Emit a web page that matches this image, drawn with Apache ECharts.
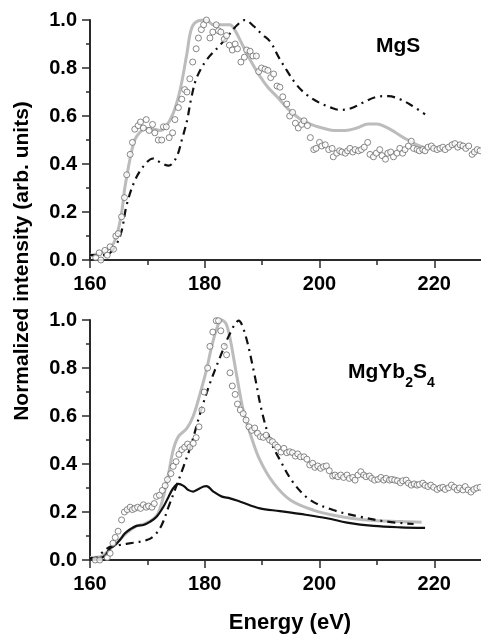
<!DOCTYPE html>
<html>
<head>
<meta charset="utf-8">
<title>Mg L2,3 edge spectra</title>
<script src="https://cdn.jsdelivr.net/npm/echarts@6/dist/echarts.min.js"></script>
<style>
  html, body { margin: 0; padding: 0; background: #fff; }
  #chart { width: 481px; height: 634px; }
</style>
</head>
<body>
<div id="chart"></div>
<script>
// Axis ticks
const xTicks = [160, 180, 200, 220];
const yTicks = [0.0, 0.2, 0.4, 0.6, 0.8, 1.0];

// ---------- MgS panel ----------
// measured spectrum (open circles)
const mgsMeasured = [
  [161.0,0.01],[161.6,0.03],[161.9,0.0],[162.6,0.04],[163.0,0.02],[163.5,0.055],[164.1,0.045],
  [164.5,0.1],[164.9,0.11],[165.5,0.18],[166.0,0.26],[166.4,0.355],[167.0,0.44],[167.4,0.49],
  [167.8,0.545],[168.4,0.56],[168.8,0.575],[169.3,0.55],[169.8,0.585],[170.3,0.54],[170.9,0.565],
  [171.3,0.53],[171.9,0.5],[172.5,0.5],[172.8,0.555],[173.3,0.555],[173.8,0.51],[174.4,0.53],
  [174.8,0.585],[175.4,0.635],[176.0,0.67],[176.5,0.71],[176.9,0.70],[177.4,0.755],[177.9,0.825],
  [178.5,0.88],[178.9,0.925],[179.4,0.96],[179.8,0.98],[180.3,1.0],[180.9,0.925],[181.4,0.95],
  [182.0,0.98],[182.4,0.955],[182.8,0.95],[183.4,0.92],[183.8,0.935],[184.3,0.895],[184.8,0.875],
  [185.3,0.9],[185.7,0.88],[186.3,0.825],[186.9,0.845],[187.3,0.875],[187.9,0.87],[188.4,0.85],
  [189.0,0.85],[189.4,0.785],[189.9,0.8],[190.5,0.795],[191.0,0.79],[191.5,0.76],[192.0,0.775],
  [192.6,0.725],[193.1,0.72],[193.6,0.68],[194.3,0.65],[194.8,0.6],[195.3,0.615],[195.8,0.57],
  [196.3,0.55],[196.9,0.565],[197.3,0.58],[197.9,0.56],[198.4,0.51],[199.0,0.46],[199.4,0.465],
  [200.0,0.49],[200.4,0.475],[201.0,0.48],[201.6,0.46],[202.2,0.465],[202.4,0.43],[203.0,0.445],
  [203.5,0.455],[203.9,0.45],[204.5,0.445],[204.9,0.455],[205.3,0.465],[205.8,0.45],[206.2,0.46],
  [206.8,0.455],[207.3,0.46],[207.8,0.47],[208.4,0.49],[208.8,0.44],[209.4,0.43],[209.9,0.445],
  [210.5,0.46],[210.9,0.435],[211.5,0.42],[211.9,0.445],[212.4,0.45],[212.9,0.43],[213.5,0.445],
  [214.0,0.465],[214.5,0.445],[214.9,0.46],[215.5,0.475],[216.0,0.495],[216.4,0.465],[217.0,0.46],
  [217.4,0.455],[218.0,0.46],[218.4,0.455],[218.9,0.47],[219.5,0.475],[219.9,0.465],[220.5,0.46],
  [221.0,0.465],[221.5,0.47],[221.9,0.46],[222.5,0.47],[223.1,0.48],[223.6,0.485],[224.1,0.47],
  [224.5,0.48],[225.0,0.475],[225.5,0.465],[226.0,0.475],[226.6,0.44],[227.0,0.45],[227.5,0.46],
  [228.0,0.455]
];
// calculation (grey solid line)
const mgsCalcGrey = [
  [160,0.02],[162,0.03],[163.5,0.05],[164.5,0.09],[165.5,0.195],[166.1,0.305],[167.3,0.458],
  [168.1,0.514],[169.9,0.549],[171.2,0.545],[172.2,0.54],[173.2,0.555],[174.5,0.611],[175.7,0.708],
  [176.9,0.861],[177.7,0.965],[178.9,0.997],[180.3,1.0],[181.5,0.98],[183.0,0.98],[184.4,0.98],
  [185.2,0.96],[186.5,0.9],[188.0,0.83],[189.5,0.77],[191.0,0.72],[192.6,0.68],[194.5,0.63],
  [196.5,0.59],[198.5,0.565],[200.5,0.55],[202.5,0.54],[204.5,0.54],[206.5,0.55],[208.5,0.567],
  [210.0,0.567],[211.5,0.555],[213.0,0.535],[215.0,0.505],[217.0,0.48],[218.7,0.465]
];
// calculation (black dash-dot line)
const mgsCalcDashDot = [
  [160,0.02],[162,0.02],[163.5,0.03],[164.5,0.06],[165.5,0.12],[166.4,0.23],[167.8,0.33],
  [169.3,0.39],[171.0,0.423],[172.5,0.403],[173.7,0.393],[175.1,0.43],[176.0,0.5],[176.9,0.58],
  [177.7,0.68],[178.6,0.76],[180.3,0.833],[182.7,0.896],[184.4,0.944],[185.7,0.98],[187.0,1.0],
  [188.5,0.975],[190.0,0.94],[191.4,0.91],[193.0,0.84],[194.3,0.79],[196.0,0.73],[197.8,0.688],
  [200.0,0.655],[202.0,0.635],[203.6,0.625],[205.5,0.632],[207.5,0.655],[210.0,0.68],[212.0,0.683],
  [214.0,0.67],[216.0,0.645],[218.4,0.607]
];

// ---------- MgYb2S4 panel ----------
const mgybMeasured = [
  [160.9,0.0],[161.7,0.0],[163.0,0.01],[163.5,0.028],[164.0,0.07],[164.4,0.094],[164.9,0.12],
  [165.5,0.167],[166.0,0.2],[166.5,0.21],[167.0,0.22],[167.4,0.21],[167.8,0.215],[168.3,0.22],
  [168.8,0.215],[169.3,0.23],[169.8,0.22],[170.2,0.225],[170.8,0.22],[171.2,0.235],[171.6,0.265],
  [172.1,0.27],[172.6,0.29],[173.1,0.31],[173.5,0.335],[174.1,0.36],[174.5,0.39],[175.0,0.41],
  [175.5,0.44],[176.0,0.46],[176.5,0.47],[177.0,0.483],[177.4,0.47],[178.0,0.486],[178.5,0.51],
  [179.0,0.555],[179.5,0.625],[179.9,0.7],[180.5,0.8],[180.9,0.89],[181.4,0.95],[182.0,0.997],
  [182.4,0.997],[182.8,0.955],[183.4,0.89],[183.8,0.855],[184.4,0.78],[184.8,0.725],[185.3,0.69],
  [185.7,0.65],[186.2,0.625],[186.7,0.61],[187.2,0.583],[187.7,0.555],[188.2,0.54],[188.7,0.55],
  [189.2,0.528],[189.7,0.514],[190.2,0.511],[190.7,0.52],[191.3,0.5],[191.8,0.493],[192.3,0.48],
  [192.7,0.47],[193.3,0.45],[193.8,0.465],[194.3,0.447],[194.8,0.451],[195.3,0.447],[195.8,0.433],
  [196.2,0.442],[196.7,0.43],[197.3,0.43],[197.8,0.42],[198.3,0.396],[198.8,0.403],[199.2,0.386],
  [199.7,0.392],[200.2,0.382],[200.7,0.389],[201.2,0.392],[201.7,0.372],[202.3,0.35],[202.7,0.354],
  [203.2,0.347],[203.7,0.354],[204.2,0.344],[204.8,0.354],[205.2,0.34],[205.8,0.344],[206.2,0.333],
  [206.7,0.354],[207.2,0.368],[207.7,0.354],[208.1,0.347],[208.7,0.35],[209.1,0.34],[209.6,0.333],
  [210.2,0.336],[210.7,0.344],[211.2,0.333],[211.6,0.34],[212.2,0.333],[212.6,0.336],[213.1,0.333],
  [213.6,0.33],[214.1,0.322],[214.5,0.33],[215.1,0.333],[215.5,0.32],[216.0,0.312],[216.5,0.317],
  [217.0,0.312],[217.4,0.315],[218.0,0.32],[218.4,0.311],[218.9,0.306],[219.4,0.312],[219.9,0.303],
  [220.5,0.294],[221.0,0.3],[221.5,0.303],[221.9,0.294],[222.5,0.301],[223.0,0.312],[223.5,0.303],
  [224.0,0.292],[224.4,0.3],[225.0,0.292],[225.4,0.306],[225.9,0.292],[226.4,0.283],[226.9,0.294],
  [227.4,0.3],[228.0,0.303]
];
const mgybCalcGrey = [
  [160,0.01],[162,0.015],[163.5,0.045],[165,0.08],[166.5,0.115],[168,0.14],[169.5,0.15],[171,0.17],
  [171.9,0.195],[172.8,0.264],[173.7,0.36],[174.5,0.458],[175.4,0.514],[176.9,0.549],[178.0,0.6],
  [179.2,0.694],[180.3,0.792],[181.2,0.889],[182.1,0.965],[182.9,1.0],[183.7,0.985],[184.4,0.925],
  [185.6,0.764],[186.7,0.625],[187.9,0.528],[189.6,0.417],[192.0,0.32],[194.9,0.25],[198.9,0.208],
  [203.6,0.181],[208.2,0.167],[214.1,0.16],[217.8,0.157]
];
const mgybCalcBlack = [
  [160,0.007],[161.7,0.008],[162.6,0.017],[163.5,0.049],[164.4,0.0625],[165.2,0.083],[166.1,0.111],
  [167.0,0.128],[168.1,0.142],[169.3,0.146],[170.5,0.16],[171.6,0.18],[172.8,0.222],[173.7,0.264],
  [174.5,0.299],[175.4,0.317],[176.3,0.309],[177.1,0.292],[178.0,0.285],[178.6,0.292],[179.8,0.306],
  [180.3,0.308],[181.5,0.285],[183.0,0.264],[184.4,0.257],[186.2,0.243],[189.6,0.215],[193.1,0.204],
  [196.6,0.192],[201.3,0.174],[204.8,0.156],[209.4,0.142],[214.1,0.136],[218.4,0.134]
];
const mgybCalcDashDot = [
  [160,0.007],[161.2,0.01],[162.3,0.035],[163.5,0.055],[165.2,0.0625],[167.5,0.072],[169.9,0.083],
  [171.3,0.104],[172.5,0.146],[173.7,0.222],[174.8,0.292],[176.3,0.389],[177.7,0.486],[179.2,0.611],
  [180.9,0.736],[182.7,0.847],[184.4,0.944],[185.9,0.997],[187.0,0.944],[188.5,0.792],[189.9,0.625],
  [191.4,0.5],[193.1,0.417],[195.5,0.32],[198.4,0.25],[202.4,0.208],[207.1,0.18],[211.7,0.16],
  [216.4,0.15]
];

const FONT = 'Liberation Sans, Arial, sans-serif';
const AXIS_COLOR = '#2a2a2a';

function xAxisFor(gridIndex) {
  return {
    type: 'value', gridIndex,
    min: xTicks[0], max: 240, interval: xTicks[1] - xTicks[0],
    axisLine: { show: true, lineStyle: { color: AXIS_COLOR, width: 2 } },
    axisTick: { show: true, inside: false, length: 8, lineStyle: { color: AXIS_COLOR, width: 1.5 } },
    minorTick: { show: true, splitNumber: 2, length: 5, lineStyle: { color: AXIS_COLOR, width: 1.5 } },
    splitLine: { show: false },
    axisLabel: {
      color: '#000', fontFamily: FONT, fontWeight: 'bold', fontSize: 20, margin: 14,
      showMaxLabel: false,
      formatter: v => xTicks.includes(v) ? String(v) : ''
    }
  };
}
function yAxisFor(gridIndex) {
  return {
    type: 'value', gridIndex,
    min: yTicks[0], max: yTicks[yTicks.length - 1], interval: yTicks[1] - yTicks[0],
    axisLine: { show: true, lineStyle: { color: AXIS_COLOR, width: 2 } },
    axisTick: { show: true, inside: false, length: 8, lineStyle: { color: AXIS_COLOR, width: 1.5 } },
    minorTick: { show: true, splitNumber: 2, length: 4, lineStyle: { color: AXIS_COLOR, width: 1.5 } },
    splitLine: { show: false },
    axisLabel: {
      color: '#000', fontFamily: FONT, fontWeight: 'bold', fontSize: 20, margin: 13,
      formatter: v => v.toFixed(1)
    }
  };
}

function measured(data, idx) {
  return {
    type: 'scatter', name: 'Experiment', xAxisIndex: idx, yAxisIndex: idx, data,
    symbol: 'circle', symbolSize: 6, clip: false, z: 4,
    itemStyle: { color: '#fff', borderColor: '#6a6a6a', borderWidth: 1 }
  };
}
function line(data, idx, name, style, z) {
  return {
    type: 'line', name, xAxisIndex: idx, yAxisIndex: idx, data,
    showSymbol: false, smooth: 0.35, clip: false, z,
    lineStyle: style
  };
}
const greyStyle = { color: '#bcbcbc', width: 3 };
const dashDotStyle = { color: '#111', width: 2.2, type: [8, 5, 2, 5] };
const blackStyle = { color: '#111', width: 2.2 };

const chart = echarts.init(document.getElementById('chart'), null, { renderer: 'canvas' });
chart.setOption({
  animation: false,
  backgroundColor: '#fff',
  grid: [
    { left: 90, top: 20, width: 459, height: 240, containLabel: false, outerBoundsMode: 'none' },
    { left: 90, top: 320, width: 459, height: 240, containLabel: false, outerBoundsMode: 'none' }
  ],
  xAxis: [xAxisFor(0), xAxisFor(1)],
  yAxis: [yAxisFor(0), yAxisFor(1)],
  series: [
    line(mgsCalcGrey, 0, 'Calculation A', greyStyle, 2),
    line(mgsCalcDashDot, 0, 'Calculation B', dashDotStyle, 3),
    measured(mgsMeasured, 0),
    line(mgybCalcGrey, 1, 'Calculation A', greyStyle, 2),
    line(mgybCalcBlack, 1, 'Calculation C', blackStyle, 3),
    line(mgybCalcDashDot, 1, 'Calculation B', dashDotStyle, 3),
    measured(mgybMeasured, 1)
  ],
  graphic: [
    {
      type: 'text', left: 376, top: 36,
      style: { text: 'MgS', fill: '#000', font: 'bold 21px ' + FONT }
    },
    {
      type: 'text', left: 348, top: 362,
      style: {
        text: '{a|MgYb}{s|2}{a|S}{s|4}',
        rich: {
          a: { fontFamily: FONT, fontWeight: 'bold', fontSize: 21, fill: '#000', lineHeight: 36, verticalAlign: 'middle' },
          s: { fontFamily: FONT, fontWeight: 'bold', fontSize: 14, fill: '#000', lineHeight: 36, verticalAlign: 'bottom' }
        }
      }
    },
    {
      type: 'text', x: 22, y: 261, rotation: Math.PI / 2,
      style: { text: 'Normalized intensity (arb. units)', fill: '#000', font: 'bold 21px ' + FONT, align: 'center', verticalAlign: 'middle' }
    },
    {
      type: 'text', x: 290, y: 623,
      style: { text: 'Energy (eV)', fill: '#000', font: 'bold 22px ' + FONT, align: 'center', verticalAlign: 'middle' }
    }
  ]
});
</script>
</body>
</html>
